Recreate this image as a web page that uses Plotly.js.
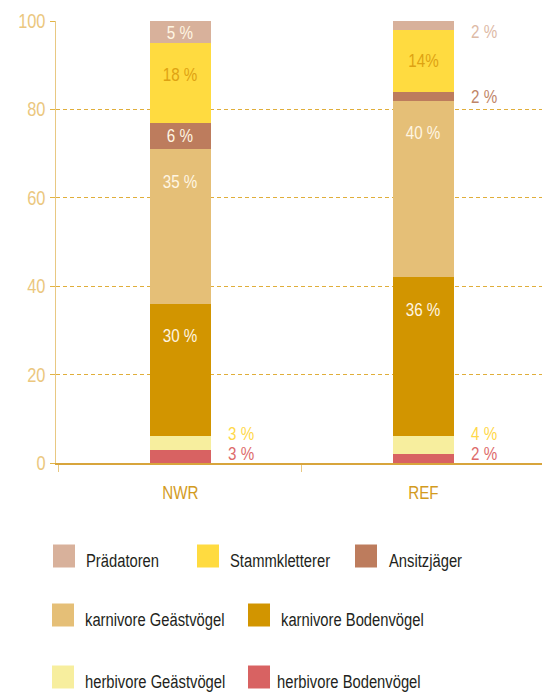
<!DOCTYPE html>
<html>
<head>
<meta charset="utf-8">
<script src="https://cdn.plot.ly/plotly-3.0.1.min.js"></script>
<style>
  html, body { margin: 0; padding: 0; background: #fff; }
  #chart { width: 542px; height: 692px; }
</style>
</head>
<body>
<div id="chart"></div>
<script>
/*globals document, Plotly*/

// sites on the x axis
var sites = ['NWR', 'REF'];

// guilds, stack order bottom -> top
var guilds = [
  'herbivore Bodenvögel',
  'herbivore Geästvögel',
  'karnivore Bodenvögel',
  'karnivore Geästvögel',
  'Ansitzjäger',
  'Stammkletterer',
  'Prädatoren'
];

// shares in %
var nwrValues = [3, 3, 30, 35, 6, 18, 5];
var refValues = [2, 4, 36, 40, 2, 14, 2];

// label texts as printed
var nwrLabels = ['3 %', '3 %', '30 %', '35 %', '6 %', '18 %', '5 %'];
var refLabels = ['2 %', '4 %', '36 %', '40 %', '2 %', '14%', '2 %'];

var yTicks = [0, 20, 40, 60, 80, 100];

// legend order (indices into guilds)
var legendOrder = [6, 5, 4, 3, 2, 1, 0];

// *** styles *** //
var colors = ['#D86262', '#F7EE9E', '#D29500', '#E5BF77', '#BD7C5D', '#FFDB40', '#D8B19B'];
var outsideColors = ['#DD6B6B', '#FFD84A', '#D29500', '#E5BF77', '#C08568', '#FFDB40', '#DDBAA6'];
var insideColors = ['#FFF6E3', '#FFF6E3', '#FFF6E3', '#FFF6E3', '#FFF6E3', '#DEA212', '#FFF6E3'];
var FONT = '"Liberation Sans", Arial, sans-serif';
var SQUEEZE = 0.82; // condensed look

// plot area in pixels
var M = { l: 56, r: 0, t: 21, b: 229 };
var W = 542, H = 692;
var plotW = W - M.l - M.r, plotH = H - M.t - M.b;
function px(x) { return (x - M.l) / plotW; }
function py(y) { return (H - M.b - y) / plotH; }

var siteValues = [nwrValues, refValues];
var siteLabels = [nwrLabels, refLabels];

var traces = guilds.map(function (name, i) {
  return {
    type: 'bar',
    name: name,
    x: sites,
    y: siteValues.map(function (vals) { return vals[i]; }),
    marker: { color: colors[i], line: { width: 0 } },
    hoverinfo: 'skip'
  };
});

var annotations = [];
siteValues.forEach(function (vals, s) {
  var cum = 0;
  vals.forEach(function (v, i) {
    var a = {
      x: sites[s],
      text: siteLabels[s][i],
      showarrow: false,
      yanchor: 'middle',
      font: { family: FONT, size: 18.5 }
    };
    if (v < 5) {
      // small share -> label to the right of the bar
      a.xanchor = 'left';
      a.align = 'left';
      a.xshift = 46;
      a.font.color = outsideColors[i];
      if (i <= 1) {
        a.y = 0;
        a.yshift = 10 + 20 * i;
      } else if (i === vals.length - 1) {
        a.y = 100;
        a.yshift = -10;
      } else {
        a.y = cum + v / 2;
      }
    } else {
      a.xanchor = 'center';
      a.font.color = insideColors[i];
      if (v >= 20) {
        a.y = cum + v;
        a.yshift = -32;
      } else {
        a.y = cum + v / 2;
        if (v >= 15) a.yshift = 8;
      }
    }
    annotations.push(a);
    cum += v;
  });
});

// custom legend, 3 rows
var legendSlots = [
  [53, 556, 84], [197, 556, 228], [355, 556, 387],
  [52, 615, 83], [248, 615, 279],
  [52, 677, 83], [248, 677, 275]
];
var shapes = [];
legendOrder.forEach(function (g, k) {
  var slot = legendSlots[k];
  shapes.push({
    type: 'rect', xref: 'paper', yref: 'paper',
    x0: px(slot[0]), x1: px(slot[0] + 22),
    y0: py(slot[1] - 11.5), y1: py(slot[1] + 11.5),
    fillcolor: colors[g], line: { width: 0 }
  });
  annotations.push({
    xref: 'paper', yref: 'paper',
    x: px(slot[2]), y: py(slot[1] + 5),
    xanchor: 'left', yanchor: 'middle', align: 'left',
    text: guilds[g], showarrow: false,
    font: { family: FONT, size: 18, color: '#231F20' }
  });
});

var layout = {
  width: W,
  height: H,
  margin: M,
  paper_bgcolor: '#fff',
  plot_bgcolor: '#fff',
  barmode: 'stack',
  bargap: 0.75,
  showlegend: false,
  hovermode: false,
  font: { family: FONT },
  xaxis: {
    type: 'category',
    range: [-0.512, 1.488],
    showgrid: false,
    zeroline: false,
    showline: true,
    linecolor: '#D8A53C',
    linewidth: 1.5,
    ticks: 'outside',
    tickson: 'boundaries',
    ticklen: 7,
    tickcolor: '#E8C882',
    ticklabelstandoff: 12,
    tickfont: { family: FONT, size: 18.5, color: '#D39B1E' }
  },
  yaxis: {
    range: [0, 100],
    tickvals: yTicks,
    showgrid: true,
    gridcolor: '#E0AE3A',
    griddash: '4px,3px',
    zeroline: false,
    showline: true,
    linecolor: '#E8C882',
    linewidth: 1.5,
    ticks: 'outside',
    ticklen: 5,
    tickcolor: '#E2B445',
    ticklabelstandoff: 0,
    tickfont: { family: FONT, size: 20, color: '#EBC77E' }
  },
  annotations: annotations,
  shapes: shapes
};

// squeeze every text horizontally to mimic the condensed face
function squeezeText() {
  var texts = document.querySelectorAll('#chart text');
  Array.prototype.forEach.call(texts, function (t) {
    var w = t.getComputedTextLength();
    if (w > 0) {
      t.setAttribute('textLength', (w * SQUEEZE).toFixed(2));
      t.setAttribute('lengthAdjust', 'spacingAndGlyphs');
    }
  });
}

Plotly.newPlot('chart', traces, layout, { displayModeBar: false, staticPlot: true })
  .then(squeezeText);
</script>
</body>
</html>
